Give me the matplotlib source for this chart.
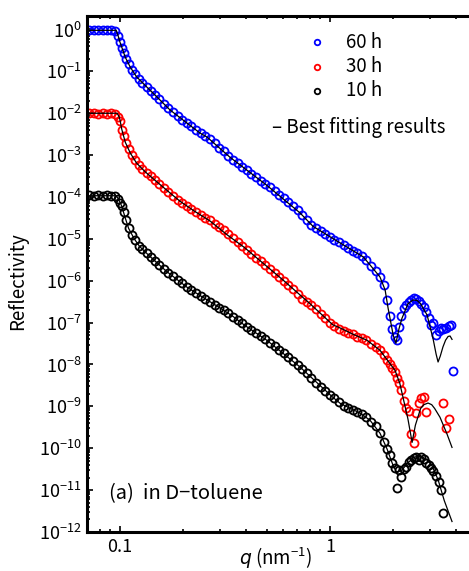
import matplotlib
matplotlib.use('Agg')
import matplotlib.pyplot as plt
import numpy as np
from matplotlib.ticker import LogLocator, NullFormatter, FixedLocator

plt.rcParams['font.family'] = ['Noto Sans CJK JP', 'DejaVu Sans']
plt.rcParams['mathtext.fontset'] = 'custom'
plt.rcParams['mathtext.rm'] = 'Noto Sans CJK JP'
plt.rcParams['mathtext.it'] = 'DejaVu Sans:italic'
plt.rcParams['mathtext.default'] = 'regular'

# measured points, q in nm^-1, reflectivity given as log10(R)
q = [0.071, 0.075, 0.079, 0.083, 0.087, 0.091, 0.095, 0.098, 0.100, 0.102,
     0.104, 0.107, 0.110, 0.114, 0.118, 0.123, 0.128, 0.134, 0.140, 0.147,
     0.154, 0.162, 0.170, 0.179, 0.188, 0.198, 0.208, 0.219, 0.230, 0.242,
     0.255, 0.268, 0.282, 0.297, 0.312, 0.328, 0.345, 0.363, 0.382, 0.402,
     0.423, 0.445, 0.468, 0.492, 0.518, 0.545, 0.573, 0.603, 0.634, 0.667,
     0.702, 0.738, 0.776, 0.816, 0.858, 0.903, 0.950, 1.00, 1.05, 1.10,
     1.16, 1.22, 1.28, 1.35, 1.42, 1.49, 1.57, 1.65, 1.73, 1.80,
     1.87, 1.93, 1.98, 2.03, 2.08, 2.13, 2.19, 2.25, 2.31, 2.37,
     2.43, 2.50, 2.57, 2.64, 2.71, 2.79, 2.87, 2.95, 3.03, 3.11,
     3.20, 3.29, 3.38, 3.47, 3.57, 3.67, 3.78, 3.85]

nan = np.nan
r_60h = [-0.02, -0.01, -0.02, -0.02, -0.01, -0.02, -0.03, -0.15, -0.30, -0.44,
         -0.55, -0.70, -0.83, -0.96, -1.07, -1.18, -1.27, -1.37, -1.46, -1.56,
         -1.66, -1.78, -1.88, -1.98, -2.06, -2.15, -2.23, -2.31, -2.40, -2.48,
         -2.55, -2.62, -2.72, -2.82, -2.91, -3.01, -3.12, -3.20, -3.28, -3.36,
         -3.45, -3.53, -3.61, -3.69, -3.77, -3.85, -3.95, -4.03, -4.12, -4.22,
         -4.32, -4.43, -4.56, -4.67, -4.74, -4.82, -4.89, -4.96, -5.02, -5.08,
         -5.15, -5.22, -5.28, -5.33, -5.40, -5.50, -5.65, -5.76, -5.91, -6.10,
         -6.45, -6.85, -7.15, -7.35, -7.42, -7.10, -6.85, -6.65, -6.58, -6.50,
         -6.45, -6.42, -6.44, -6.48, -6.55, -6.62, -6.75, -6.90, -7.05, -7.01,
         -7.30, -7.20, -7.13, -7.15, -7.12, -7.08, -7.05, -8.16]

r_30h = [-2.00, -2.00, -2.01, -2.00, -2.01, -2.00, -2.01, -2.08, -2.18, -2.40,
         -2.55, -2.72, -2.86, -3.00, -3.12, -3.24, -3.33, -3.42, -3.50, -3.60,
         -3.69, -3.78, -3.87, -3.97, -4.06, -4.15, -4.22, -4.28, -4.35, -4.43,
         -4.50, -4.56, -4.64, -4.72, -4.80, -4.88, -4.98, -5.08, -5.17, -5.27,
         -5.36, -5.45, -5.53, -5.62, -5.72, -5.81, -5.91, -6.00, -6.10, -6.20,
         -6.32, -6.43, -6.50, -6.58, -6.68, -6.80, -6.90, -7.00, -7.08, -7.15,
         -7.20, -7.24, -7.28, -7.34, -7.37, -7.42, -7.50, -7.58, -7.66, -7.78,
         -7.90, -8.00, -8.08, -8.18, -8.32, -8.45, -8.61, -8.88, -9.03, -9.10,
         -9.65, -9.88, -9.17, -8.92, -8.80, -8.78, -9.14, nan, nan, nan,
         nan, nan, nan, -8.93, -9.52, -9.31, nan, nan]

r_10h = [-3.96, -3.97, -3.96, -3.97, -3.96, -3.97, -3.98, -4.05, -4.14, -4.22,
         -4.36, -4.56, -4.74, -4.90, -5.03, -5.16, -5.25, -5.34, -5.43, -5.52,
         -5.62, -5.72, -5.81, -5.89, -5.98, -6.06, -6.15, -6.22, -6.29, -6.36,
         -6.43, -6.50, -6.57, -6.64, -6.70, -6.78, -6.86, -6.94, -7.02, -7.10,
         -7.17, -7.24, -7.32, -7.40, -7.48, -7.56, -7.65, -7.73, -7.82, -7.92,
         -8.01, -8.11, -8.21, -8.32, -8.43, -8.53, -8.63, -8.73, -8.81, -8.90,
         -8.98, -9.03, -9.08, -9.13, -9.19, -9.26, -9.37, -9.48, -9.64, -9.86,
         -10.02, -10.17, -10.35, -10.47, -10.96, -10.52, -10.68, -10.50, -10.45, -10.33,
         -10.29, -10.24, -10.20, -10.29, -10.20, -10.26, -10.35, -10.41, -10.47, -10.55,
         -10.67, -10.80, -11.00, -11.55, nan, nan, nan, nan]

# best fitting curves (log10 R)
fit60_q = [0.0697, 0.096, 0.098, 0.100, 0.102, 0.106, 0.112, 0.120, 0.134, 0.150,
           0.173, 0.208, 0.240, 0.260, 0.334, 0.50, 0.72, 0.83, 1.12, 1.44,
           1.55, 1.73, 1.83, 1.89, 1.95, 2.00, 2.06, 2.13, 2.20, 2.35,
           2.48, 2.60, 2.70, 2.90, 3.10, 3.20, 3.27, 3.35, 3.45, 3.55,
           3.65, 3.73, 3.81]
fit60_r = [-0.02, -0.02, -0.15, -0.30, -0.42, -0.66, -0.90, -1.13, -1.37, -1.61,
           -1.92, -2.23, -2.47, -2.57, -3.05, -3.72, -4.38, -4.70, -5.10, -5.43,
           -5.62, -5.91, -6.22, -6.65, -7.01, -7.30, -7.49, -7.15, -6.90, -6.55,
           -6.46, -6.47, -6.55, -6.82, -7.40, -7.75, -7.94, -7.80, -7.58, -7.42,
           -7.33, -7.32, -7.40]

fit30_q = [0.0697, 0.097, 0.099, 0.100, 0.102, 0.106, 0.112, 0.120, 0.132, 0.150,
           0.171, 0.193, 0.225, 0.268, 0.323, 0.39, 0.60, 0.80, 1.03, 1.12,
           1.29, 1.50, 1.73, 2.04, 2.15, 2.23, 2.35, 2.46, 2.55, 2.70,
           2.80, 2.93, 3.05, 3.15, 3.34, 3.60, 3.81]
fit30_r = [-2.00, -2.00, -2.08, -2.15, -2.38, -2.69, -2.95, -3.19, -3.40, -3.64,
           -3.88, -4.10, -4.33, -4.57, -4.90, -5.20, -5.99, -6.54, -7.05, -7.13,
           -7.28, -7.42, -7.66, -8.14, -8.45, -8.80, -9.30, -9.86, -9.45, -9.05,
           -8.96, -8.92, -8.96, -9.05, -9.26, -9.65, -9.98]

fit10_q = [0.0697, 0.094, 0.097, 0.100, 0.102, 0.106, 0.110, 0.117, 0.124, 0.137,
           0.150, 0.167, 0.187, 0.208, 0.251, 0.30, 0.345, 0.394, 0.50, 0.72,
           1.03, 1.12, 1.39, 1.55, 1.73, 1.87, 2.00, 2.08, 2.20, 2.35,
           2.50, 2.68, 2.90, 3.06, 3.27, 3.50, 3.81]
fit10_r = [-3.97, -3.97, -4.00, -4.12, -4.22, -4.50, -4.75, -5.00, -5.18, -5.39,
           -5.57, -5.78, -5.97, -6.15, -6.41, -6.65, -6.85, -7.07, -7.42, -8.06,
           -8.78, -8.93, -9.16, -9.33, -9.64, -10.02, -10.42, -10.58, -10.52, -10.35,
           -10.22, -10.17, -10.28, -10.42, -10.75, -11.25, -11.75]

labels = ['60 h', '30 h', '10 h']
colors = ['#0000ff', '#ff0000', '#000000']

fig = plt.figure(figsize=(4.69, 5.71), dpi=100)
ax = fig.add_axes([87/469, 39/571, 382/469, 516/571])

for r, c in zip([r_60h, r_30h, r_10h], colors):
    ax.plot(q, 10**np.array(r), ls='none', marker='o', mfc='none', mec=c, ms=5.8, mew=1.3)
for fq, fr in [(fit60_q, fit60_r), (fit30_q, fit30_r), (fit10_q, fit10_r)]:
    ax.plot(fq, 10**np.array(fr), color='black', lw=0.9)

ax.set_xscale('log')
ax.set_yscale('log')
ax.set_xlim(0.0697, 4.59)
ax.set_ylim(1e-12, 2.1)

ax.set_xticks([0.1, 1])
ax.set_xticklabels(['0.1', '1'])
ax.xaxis.set_minor_locator(FixedLocator([0.08, 0.09, 0.2, 0.3, 0.4, 0.5, 0.6, 0.7, 0.8, 0.9, 2, 3, 4]))
ax.xaxis.set_minor_formatter(NullFormatter())
ax.set_yticks([10.0**-k for k in range(13)])
ax.set_yticklabels([r'$10^{0}$'] + [r'$10^{-%d}$' % k for k in range(1, 13)])
ax.yaxis.set_minor_locator(LogLocator(base=10, subs=np.arange(2, 10), numticks=100))
ax.yaxis.set_minor_formatter(NullFormatter())

ax.tick_params(which='both', direction='in', top=True, right=False, width=1.2, labelsize=13)
ax.tick_params(which='major', length=4.5)
ax.tick_params(which='minor', length=2.5)
ax.tick_params(axis='y', pad=4)
ax.tick_params(axis='x', pad=4)
for s in ['top', 'left', 'bottom']:
    ax.spines[s].set_linewidth(2.2)
ax.spines['right'].set_visible(False)

fig.text(18/469, 1 - 281/571, 'Reflectivity', fontsize=13.5, rotation=90, ha='center', va='center')
fig.text(276/469, 1 - 558/571, r'$\mathit{q}$ (nm$^{-1}$)', fontsize=13.5, ha='center', va='center')

# legend drawn by hand
for i, (lab, c) in enumerate(zip(labels, colors)):
    y = 1 - (42 + 24.5*i - 16)/516
    ax.plot([0.602], [y], transform=ax.transAxes, marker='o', mfc='none', mec=c, ms=4, mew=1.3, clip_on=False)
    ax.text(0.678, y, lab, transform=ax.transAxes, fontsize=13.5, va='center')
ax.text(0.484, 1 - (128 - 16)/516, '– Best fitting results', transform=ax.transAxes, fontsize=13.5, va='center')
ax.text(0.058, 1 - (494 - 16)/516, '(a)  in D−toluene', transform=ax.transAxes, fontsize=14.5, va='center')

plt.savefig('out.png', dpi=100)
